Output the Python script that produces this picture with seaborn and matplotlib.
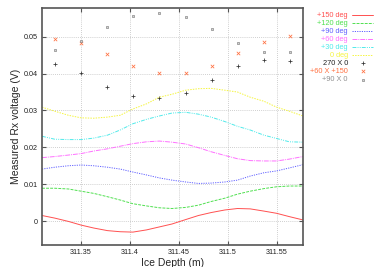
import matplotlib
matplotlib.use("Agg")
import matplotlib.pyplot as plt
from matplotlib.ticker import FuncFormatter
import seaborn as sns
import pandas as pd

# model curves on a grid of ice depths
line_depth = [311.310, 311.323, 311.337, 311.350, 311.363, 311.377, 311.390,
              311.403, 311.417, 311.430, 311.443, 311.457, 311.470, 311.483,
              311.497, 311.510, 311.523, 311.537, 311.550, 311.563, 311.577]
deg150 = [0.0015, 0.0008, -0.0001, -0.0011, -0.0019, -0.0026, -0.0029,
          -0.0030, -0.0024, -0.0016, -0.0008, 0.0004, 0.0015, 0.0023,
          0.0030, 0.0034, 0.0033, 0.0027, 0.0021, 0.0012, 0.0003]
deg120 = [0.0089, 0.0089, 0.0087, 0.0081, 0.0075, 0.0066, 0.0057,
          0.0047, 0.0041, 0.0036, 0.0034, 0.0037, 0.0043, 0.0053,
          0.0062, 0.0073, 0.0081, 0.0088, 0.0093, 0.0095, 0.0095]
deg90 = [0.0141, 0.0146, 0.0150, 0.0152, 0.0150, 0.0146, 0.0141,
         0.0133, 0.0125, 0.0117, 0.0111, 0.0106, 0.0102, 0.0103,
         0.0106, 0.0111, 0.0122, 0.0131, 0.0136, 0.0144, 0.0153]
deg60 = [0.0172, 0.0175, 0.0179, 0.0183, 0.0190, 0.0196, 0.0203,
         0.0210, 0.0215, 0.0217, 0.0214, 0.0209, 0.0199, 0.0188,
         0.0178, 0.0169, 0.0164, 0.0163, 0.0163, 0.0168, 0.0175]
deg30 = [0.0230, 0.0222, 0.0221, 0.0221, 0.0225, 0.0233, 0.0247,
         0.0264, 0.0276, 0.0285, 0.0293, 0.0295, 0.0290, 0.0282,
         0.0270, 0.0257, 0.0247, 0.0233, 0.0224, 0.0215, 0.0214]
deg0 = [0.0309, 0.0298, 0.0287, 0.0280, 0.0279, 0.0282, 0.0287,
        0.0304, 0.0318, 0.0336, 0.0344, 0.0355, 0.0359, 0.0360,
        0.0355, 0.0350, 0.0336, 0.0325, 0.0309, 0.0298, 0.0285]

# measured points
point_depth = [311.323, 311.350, 311.377, 311.403, 311.430,
               311.457, 311.484, 311.511, 311.537, 311.564]
m270x0 = [0.0426, 0.0401, 0.0365, 0.0338, 0.0333,
          0.0348, 0.0384, 0.0420, 0.0436, 0.0434]
m60x150 = [0.0495, 0.0484, 0.0453, 0.0420, 0.0402,
           0.0402, 0.0420, 0.0455, 0.0486, 0.0501]
m90x0 = [0.0465, 0.0488, 0.0526, 0.0556, 0.0565,
         0.0554, 0.0520, 0.0482, 0.0459, 0.0458]

line_labels = ["+150 deg", "+120 deg", "+90 deg", "+60 deg", "+30 deg", "0 deg"]
line_colors = ["#ff5050", "#50e050", "#6060ff", "#ff70ff", "#50eaea", "#f5f540"]
line_styles = ["-", (0, (3, 1.2)), (0, (1.2, 1.2)), (0, (5, 1, 1, 1)),
               (0, (4, 1.2, 1, 1.2, 1, 1.2)), (0, (1.5, 1.2))]

sns.set_style("ticks")
plt.rcParams["font.family"] = ["Liberation Sans", "DejaVu Sans"]

fig = plt.figure(figsize=(3.82, 2.67), dpi=100)
ax = fig.add_axes([42 / 382, 22 / 267, 261 / 382, 237 / 267])

curves = pd.DataFrame({"depth": line_depth})
for lab, vals in zip(line_labels, [deg150, deg120, deg90, deg60, deg30, deg0]):
    curves[lab] = vals

for lab, col, ls in zip(line_labels, line_colors, line_styles):
    sns.lineplot(data=curves, x="depth", y=lab, color=col, linestyle=ls,
                 linewidth=0.7, ax=ax, label=lab)

pts = pd.DataFrame({"depth": point_depth, "a": m270x0, "b": m60x150, "c": m90x0})
sns.scatterplot(data=pts, x="depth", y="a", marker="+", color="#333333",
                s=8, linewidth=0.55, ax=ax, label="270 X 0")
sns.scatterplot(data=pts, x="depth", y="b", marker="x", color="#ff7040",
                s=6, linewidth=0.55, ax=ax, label="+60 X +150")
sns.scatterplot(data=pts, x="depth", y="c", marker="s", facecolor="#d4d4d4",
                edgecolor="#8a8a8a", s=4, linewidth=0.5, ax=ax, label="+90 X 0")

ax.set_xlim(311.310, 311.577)
ax.set_ylim(-0.0065, 0.0578)
ax.set_xticks([311.35, 311.4, 311.45, 311.5, 311.55])
ax.set_yticks([0, 0.01, 0.02, 0.03, 0.04, 0.05])
fmt = FuncFormatter(lambda v, p: "%g" % round(v, 6))
ax.xaxis.set_major_formatter(fmt)
ax.yaxis.set_major_formatter(fmt)

ax.grid(True, color="#c0c0c0", linestyle=(0, (1, 1.5)), linewidth=0.6)
ax.tick_params(direction="in", top=True, right=True, length=3, width=0.8,
               color="#555555", labelsize=5.2, pad=3, labelcolor="#222222")
for sp in ax.spines.values():
    sp.set_color("#555555")
    sp.set_linewidth(1.2)

ax.set_xlabel("Ice Depth (m)", fontsize=7.5, labelpad=1.5)
ax.set_ylabel("Measured Rx voltage (V)", fontsize=7.5, labelpad=2)

handles, labels = ax.get_legend_handles_labels()
leg = ax.legend(handles, labels, loc="upper right", markerfirst=False,
                bbox_to_anchor=(373 / 382, 1 - 12 / 267),
                bbox_transform=fig.transFigure, frameon=False, fontsize=5.3,
                handlelength=2.8, handletextpad=0.6, labelspacing=0.12,
                borderpad=0, borderaxespad=0, scatterpoints=1)
text_colors = line_colors + ["#222222", "#ff7040", "#909090"]
for t, c in zip(leg.get_texts(), text_colors):
    t.set_color(c)

fig.savefig("out.png", dpi=100)
